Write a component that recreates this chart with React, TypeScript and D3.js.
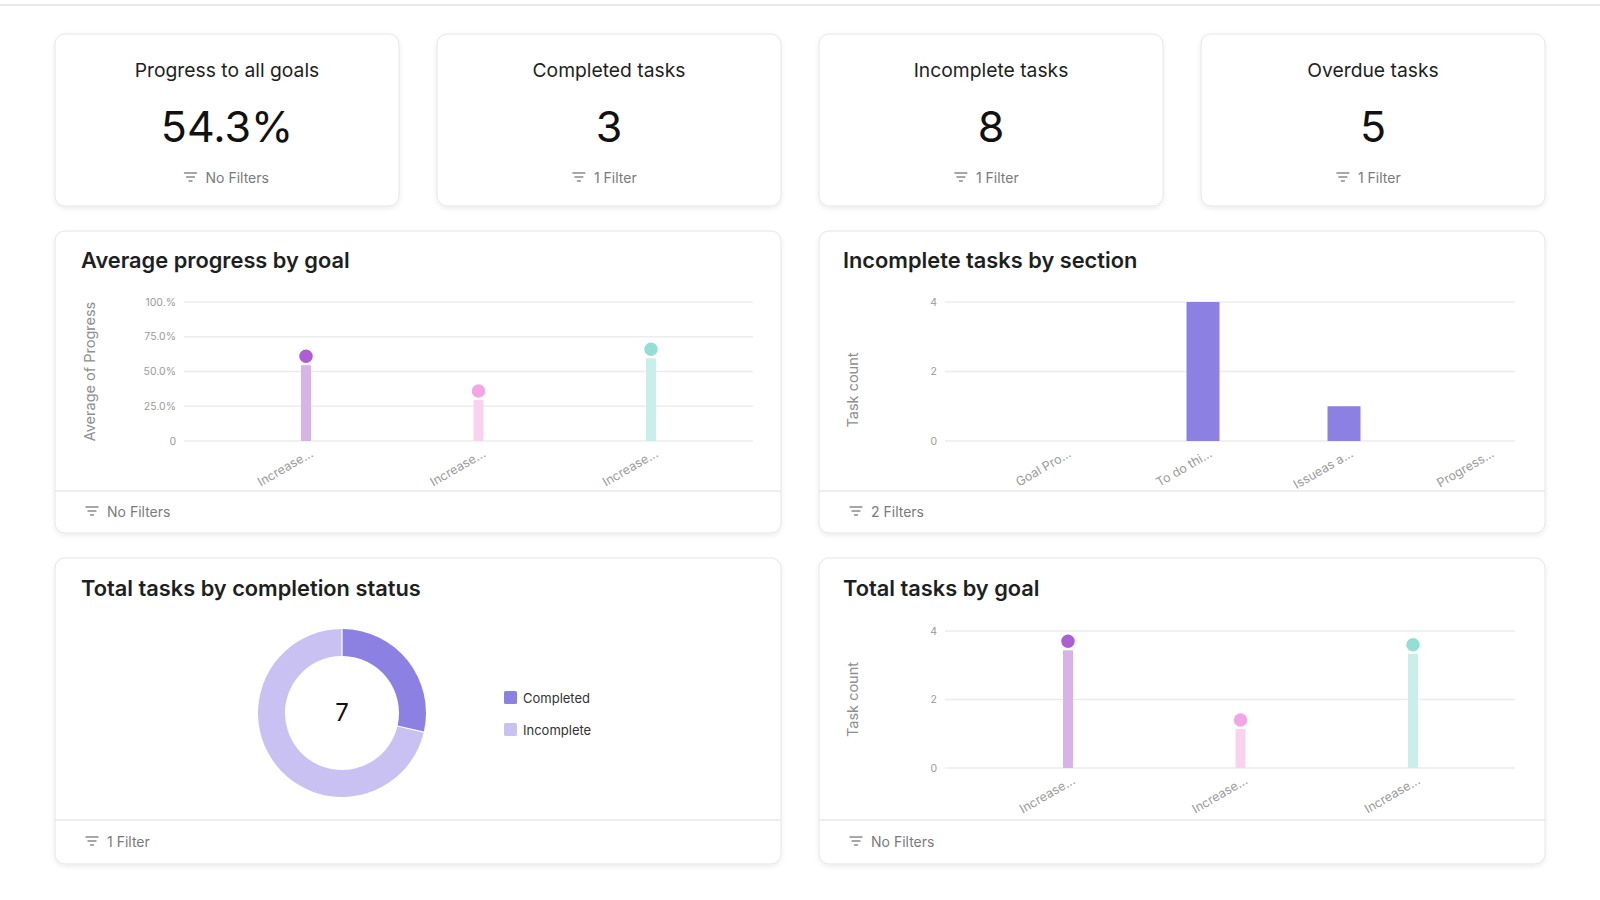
import React from "react";
import * as d3 from "d3";

const kpiTitles = ["Progress to all goals", "Completed tasks", "Incomplete tasks", "Overdue tasks"];
const kpiValues = ["54.3%", "3", "8", "5"];
const kpiFilters = ["No Filters", "1 Filter", "1 Filter", "1 Filter"];

const goalLabels = ["Increase...", "Increase...", "Increase..."];
const avgProgress = [61, 36, 66];
const progressTicks = [0, 25, 50, 75, 100];
const progressTickLabels = ["0", "25.0%", "50.0%", "75.0%", "100.%"];

const sections = ["Goal Pro...", "To do thi...", "Issueas a...", "Progress..."];
const sectionCounts = [0, 4, 1, 0];
const countTicks = [0, 2, 4];

const statusLabels = ["Completed", "Incomplete"];
const statusValues = [2, 5];
const statusColors = ["#8C80E3", "#C9C1F2"];

const goalTaskCounts = [3.7, 1.4, 3.6];

const dotColors = ["#AE5ED3", "#F3A6E3", "#93DED5"];
const stemColors = ["#D7B3E6", "#F8D2EF", "#CAEFEB"];

const FONT = "Inter, 'Noto Sans', sans-serif";
const GRID = "#ECECEE";
const TICK = "#9A9A9A";

function FilterIcon({ x, y }: { x: number; y: number }) {
  return (
    <g transform={`translate(${x},${y})`} stroke="#8A8A8A" strokeWidth={1.3} strokeLinecap="round">
      <line x1={0} x2={12} y1={0} y2={0} />
      <line x1={2} x2={10} y1={4} y2={4} />
      <line x1={4.5} x2={7.5} y1={8} y2={8} />
    </g>
  );
}

function Card({ x, y, w, h, footerY }: { x: number; y: number; w: number; h: number; footerY?: number }) {
  return (
    <g>
      <rect x={x} y={y} width={w} height={h} rx={10} fill="#fff" stroke="#E6E6E8" strokeWidth={1} filter="url(#shadow)" />
      {footerY !== undefined && <line x1={x} x2={x + w} y1={footerY} y2={footerY} stroke="#E8E8EA" strokeWidth={1.5} />}
    </g>
  );
}

function Footer({ x, y, text }: { x: number; y: number; text: string }) {
  return (
    <g>
      <FilterIcon x={x} y={y - 5} />
      <text x={x + 21} y={y} dy="0.35em" fontSize={14} fill="#7A7A7A" fontFamily={FONT}>{text}</text>
    </g>
  );
}

function Lollipop({
  values, domainMax, ticks, tickLabels, x0, x1, yTop, yBottom, gridX0, gridX1, tickX, yLabel, yLabelX,
}: any) {
  const y = d3.scaleLinear().domain([0, domainMax]).range([yBottom, yTop]);
  const xs = d3.scalePoint<number>().domain(values.map((_: number, i: number) => i)).range([x0, x1]);
  return (
    <g fontFamily={FONT}>
      {ticks.map((t: number, i: number) => (
        <g key={i}>
          <line x1={gridX0} x2={gridX1} y1={y(t)} y2={y(t)} stroke={GRID} strokeWidth={1.5} />
          <text x={tickX} y={y(t)} dy="0.35em" textAnchor="end" fontSize={10.5} fill={TICK}>{tickLabels[i]}</text>
        </g>
      ))}
      <text transform={`translate(${yLabelX},${(yTop + yBottom) / 2}) rotate(-90)`} textAnchor="middle" dy="0.35em" fontSize={14.5} fill="#8E8E8E">{yLabel}</text>
      {values.map((v: number, i: number) => {
        const cx = xs(i)!;
        return (
          <g key={i}>
            <line x1={cx} x2={cx} y1={y(0)} y2={y(v) + 9} stroke={stemColors[i]} strokeWidth={10} />
            <circle cx={cx} cy={y(v)} r={7.5} fill={dotColors[i]} stroke="#fff" strokeWidth={1.5} />
            <text transform={`translate(${cx + 8},${y(0) + 15}) rotate(-30)`} textAnchor="end" fontSize={12.5} fill={TICK}>{goalLabels[i]}</text>
          </g>
        );
      })}
    </g>
  );
}

export default function App() {
  const kpiX = d3.range(4).map((i) => 55 + i * 382);
  const kpiW = 344;

  const yBar = d3.scaleLinear().domain([0, 4]).range([441, 302]);
  const xBar = d3.scalePoint<string>().domain(sections).range([1062, 1485]);

  const pie = d3.pie<number>().sort(null).padAngle(0.012)(statusValues);
  const arc = d3.arc<d3.PieArcDatum<number>>().innerRadius(57).outerRadius(84);

  return (
    <svg width={1600} height={900} style={{ position: "absolute", left: 0, top: 0, background: "#fff" }}>
      <defs>
        <filter id="shadow" x="-5%" y="-5%" width="110%" height="115%">
          <feDropShadow dx={0} dy={2} stdDeviation={2.5} floodColor="#000" floodOpacity={0.08} />
        </filter>
      </defs>
      <rect x={0} y={0} width={1600} height={900} fill="#fff" />
      <line x1={0} x2={1600} y1={5} y2={5} stroke="#E9E9EB" strokeWidth={2} />

      {kpiX.map((x, i) => (
        <g key={i} fontFamily={FONT}>
          <Card x={x} y={34} w={kpiW} h={172} />
          <text x={x + kpiW / 2} y={70} dy="0.35em" textAnchor="middle" fontSize={19.3} fill="#1E1F21">{kpiTitles[i]}</text>
          <text x={x + kpiW / 2} y={127} dy="0.35em" textAnchor="middle" fontSize={43} fill="#111">{kpiValues[i]}</text>
          {(() => {
            const tw = kpiFilters[i].length * 6.4;
            const sx = x + kpiW / 2 - (tw + 21) / 2;
            return <Footer x={sx} y={178} text={kpiFilters[i]} />;
          })()}
        </g>
      ))}

      {/* Average progress by goal */}
      <Card x={55} y={231} w={726} h={302} footerY={491} />
      <text x={81} y={260} dy="0.35em" fontSize={21.8} fontWeight={600} fill="#1E1F21" fontFamily={FONT}>Average progress by goal</text>
      <Lollipop values={avgProgress} domainMax={100} ticks={progressTicks} tickLabels={progressTickLabels}
        x0={306} x1={651} yTop={302} yBottom={441} gridX0={184} gridX1={753} tickX={176}
        yLabel="Average of Progress" yLabelX={90} />
      <Footer x={86} y={512} text="No Filters" />

      {/* Incomplete tasks by section */}
      <Card x={819} y={231} w={726} h={302} footerY={491} />
      <text x={843} y={260} dy="0.35em" fontSize={21.8} fontWeight={600} fill="#1E1F21" fontFamily={FONT}>Incomplete tasks by section</text>
      <g fontFamily={FONT}>
        {countTicks.map((t) => (
          <g key={t}>
            <line x1={945} x2={1515} y1={yBar(t)} y2={yBar(t)} stroke={GRID} strokeWidth={1.5} />
            <text x={937} y={yBar(t)} dy="0.35em" textAnchor="end" fontSize={10.5} fill={TICK}>{t}</text>
          </g>
        ))}
        <text transform={`translate(853,390) rotate(-90)`} textAnchor="middle" dy="0.35em" fontSize={14.5} fill="#8E8E8E">Task count</text>
        {sections.map((s, i) => (
          <g key={s}>
            {sectionCounts[i] > 0 && (
              <rect x={xBar(s)! - 16.5} width={33} y={yBar(sectionCounts[i])} height={yBar(0) - yBar(sectionCounts[i])} fill="#8C80E3" />
            )}
            <text transform={`translate(${xBar(s)! + 10},${yBar(0) + 15}) rotate(-30)`} textAnchor="end" fontSize={12.5} fill={TICK}>{s}</text>
          </g>
        ))}
      </g>
      <Footer x={850} y={512} text="2 Filters" />

      {/* Total tasks by completion status */}
      <Card x={55} y={558} w={726} h={306} footerY={820} />
      <text x={81} y={588} dy="0.35em" fontSize={21.8} fontWeight={600} fill="#1E1F21" fontFamily={FONT}>Total tasks by completion status</text>
      <g transform="translate(342,713)">
        {pie.map((p, i) => (
          <path key={i} d={arc(p)!} fill={statusColors[i]} />
        ))}
        <text textAnchor="middle" dy="0.35em" fontSize={24} fill="#111" fontFamily={FONT}>{d3.sum(statusValues)}</text>
      </g>
      {statusLabels.map((l, i) => (
        <g key={l} fontFamily={FONT}>
          <rect x={504} y={691 + i * 32} width={13} height={13} rx={1.5} fill={statusColors[i]} />
          <text x={523} y={698 + i * 32} dy="0.35em" fontSize={13} fill="#333">{l}</text>
        </g>
      ))}
      <Footer x={86} y={842} text="1 Filter" />

      {/* Total tasks by goal */}
      <Card x={819} y={558} w={726} h={306} footerY={820} />
      <text x={843} y={588} dy="0.35em" fontSize={21.8} fontWeight={600} fill="#1E1F21" fontFamily={FONT}>Total tasks by goal</text>
      <Lollipop values={goalTaskCounts} domainMax={4} ticks={countTicks} tickLabels={countTicks.map(String)}
        x0={1068} x1={1413} yTop={631} yBottom={768} gridX0={945} gridX1={1515} tickX={937}
        yLabel="Task count" yLabelX={853} />
      <Footer x={850} y={842} text="No Filters" />
    </svg>
  );
}
